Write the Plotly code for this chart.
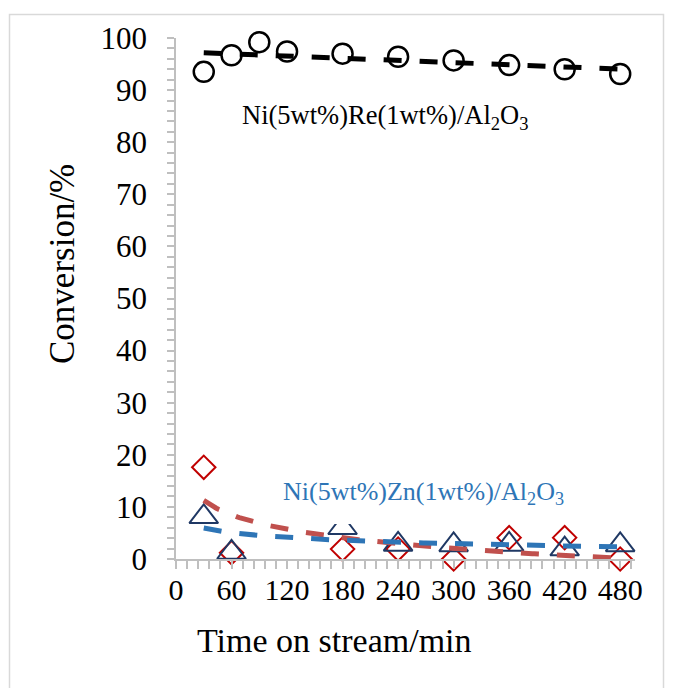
import numpy as np
import plotly.graph_objects as go

# ---------------- data ----------------
time_re = [30, 60, 90, 120, 180, 240, 300, 360, 420, 480]
conv_re = [93.5, 96.7, 99.2, 97.4, 97.0, 96.4, 95.7, 94.8, 94.0, 93.1]

time_zn = [30, 60, 180, 240, 300, 360, 420, 480]
conv_zn_diamond = [17.6, 1.2, 1.9, 1.9, 0.0, 4.1, 4.1, 0.0]
conv_zn_triangle = [8.1, 1.25, 6.0, 2.8, 2.7, 2.8, 1.9, 2.7]

x_ticks = [0, 60, 120, 180, 240, 300, 360, 420, 480]
y_ticks = [0, 10, 20, 30, 40, 50, 60, 70, 80, 90, 100]

label_re = "Ni(5wt%)Re(1wt%)/Al<sub>2</sub>O<sub>3</sub>"
label_zn = "Ni(5wt%)Zn(1wt%)/Al<sub>2</sub>O<sub>3</sub>"

# ---------------- trend lines (fits of the data, as in Excel) ----------------
xs = np.linspace(30, 480, 200)
b_re = np.polyfit(time_re, conv_re, 1)
trend_re = np.polyval(b_re, xs)
b_d = np.polyfit(np.log(time_zn), conv_zn_diamond, 1)
trend_d = np.polyval(b_d, np.log(xs))
b_t = np.polyfit(np.log(time_zn), conv_zn_triangle, 1)
trend_t = np.polyval(b_t, np.log(xs))

FONT = "Liberation Serif, Times New Roman, serif"
OFF = 8  # page body margin
W, H = 673 - OFF, 688 - OFF
L, R, T = 176 - OFF, 38, 38 - OFF
B = H - (559 - OFF)

fig = go.Figure()

# markers first (trend lines drawn on top, as in the reference)
fig.add_trace(go.Scatter(x=time_re, y=conv_re, mode="markers",
                         marker=dict(symbol="circle-open", size=20, color="black",
                                     line=dict(width=2.5, color="black")),
                         showlegend=False, cliponaxis=False))
fig.add_trace(go.Scatter(x=time_zn, y=conv_zn_diamond, mode="markers",
                         marker=dict(symbol="diamond-open", size=18, color="#C00000",
                                     line=dict(width=2, color="#C00000")),
                         showlegend=False, cliponaxis=False))
fig.add_trace(go.Scatter(x=time_zn, y=conv_zn_triangle, mode="markers",
                         marker=dict(symbol="triangle-up-open", size=25, color="#1F3864",
                                     line=dict(width=2, color="#1F3864")),
                         showlegend=False, cliponaxis=False))

fig.add_trace(go.Scatter(x=xs, y=trend_d, mode="lines",
                         line=dict(color="#C0504D", width=5, dash="18px,18px"),
                         showlegend=False, cliponaxis=False))
fig.add_trace(go.Scatter(x=xs, y=trend_t, mode="lines",
                         line=dict(color="#2E75B6", width=5, dash="18px,18px"),
                         showlegend=False, cliponaxis=False))
fig.add_trace(go.Scatter(x=xs, y=trend_re, mode="lines",
                         line=dict(color="black", width=5, dash="18px,18px"),
                         showlegend=False, cliponaxis=False))

pw = W - L - R
ph = H - T - B


def px_x(p):
    return (p - OFF - L) / pw


def px_y(p):
    return (H - B - (p - OFF)) / ph


axis_col = "#BFBFBF"
fig.update_xaxes(range=[0, 496], tickvals=x_ticks, ticktext=[str(v) for v in x_ticks],
                 showline=True, linecolor=axis_col, linewidth=1.5,
                 ticks="outside", ticklen=8, tickcolor=axis_col, tickwidth=1.5,
                 minor=dict(dtick=12, tick0=0, ticks="outside", ticklen=8,
                            tickcolor=axis_col, tickwidth=1.5, showgrid=False),
                 showgrid=False, zeroline=False, ticklabelstandoff=-5,
                 tickfont=dict(family=FONT, size=30, color="black"))
fig.update_yaxes(range=[0, 100], tickvals=y_ticks, ticktext=[str(v) for v in y_ticks],
                 showline=True, linecolor=axis_col, linewidth=1.5,
                 ticks="outside", ticklen=7, tickcolor=axis_col, tickwidth=1.5,
                 minor=dict(dtick=2, tick0=0, ticks="outside", ticklen=7,
                            tickcolor=axis_col, tickwidth=1.5, showgrid=False),
                 showgrid=False, zeroline=False, ticklabelstandoff=14,
                 tickfont=dict(family=FONT, size=31, color="black"))

fig.update_layout(
    width=W, height=H,
    margin=dict(l=L, r=R, t=T, b=B),
    paper_bgcolor="white", plot_bgcolor="white",
    shapes=[
        dict(type="rect", xref="paper", yref="paper",
             x0=px_x(9.5), x1=px_x(663.5), y0=px_y(720), y1=px_y(14.5),
             line=dict(color="#D9D9D9", width=1.5), fillcolor="rgba(0,0,0,0)",
             layer="below"),
        # white box of the lower text label (it hides part of one marker)
        dict(type="rect", xref="paper", yref="paper",
             x0=px_x(285), x1=px_x(560), y0=px_y(524), y1=px_y(476),
             line=dict(width=0), fillcolor="white", layer="above"),
    ],
    annotations=[
        dict(text=label_re, xref="paper", yref="paper", x=px_x(385), y=px_y(117),
             showarrow=False, font=dict(family=FONT, size=26.5, color="black"),
             xanchor="center", yanchor="middle"),
        dict(text=label_zn, xref="paper", yref="paper", x=px_x(423), y=px_y(493),
             showarrow=False, font=dict(family=FONT, size=26, color="#2E75B6"),
             xanchor="center", yanchor="middle"),
        dict(text="Time on stream/min", xref="paper", yref="paper", x=px_x(334), y=px_y(640),
             showarrow=False, font=dict(family=FONT, size=34, color="black"),
             xanchor="center", yanchor="middle"),
        dict(text="Conversion/%", xref="paper", yref="paper", x=px_x(62), y=px_y(264),
             showarrow=False, textangle=-90, font=dict(family=FONT, size=35, color="black"),
             xanchor="center", yanchor="middle"),
    ],
)

fig.write_html("out.html")
